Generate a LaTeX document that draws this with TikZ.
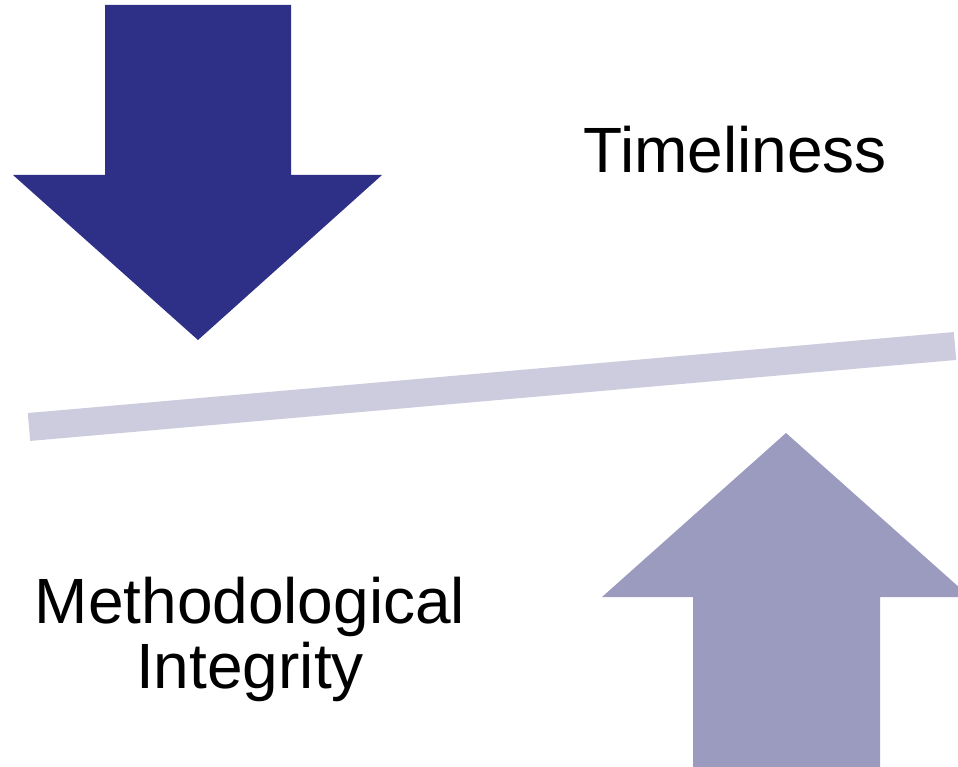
\documentclass[tikz,border=0pt]{standalone}
\usepackage{fontspec}
\setmainfont{Liberation Sans}
\definecolor{darkarrow}{RGB}{46,48,136}
\definecolor{lightarrow}{RGB}{155,155,191}
\definecolor{beam}{RGB}{204,204,222}
\begin{document}
\begin{tikzpicture}[x=1pt,y=-1pt,
  bigtext/.style={inner sep=0pt,font=\fontsize{64}{65}\selectfont,align=center}]
\useasboundingbox (0,0) rectangle (958,767);
\clip (0,0) rectangle (958,767);
% downward arrow pressing on the beam
\fill[darkarrow] (105,5) -- (291,5) -- (291,175) -- (382,175) -- (198,340)
  -- (13,175) -- (105,175) -- cycle;
% tilted beam
\draw[beam,line width=28pt,line cap=butt] (29,427) -- (955,346);
% upward arrow pushing from below
\fill[lightarrow] (693,767) -- (880,767) -- (880,597) -- (970,597) -- (786,433)
  -- (602,597) -- (693,597) -- cycle;
% labels (base anchor sits on the last line of a multi-line node)
\node[bigtext,anchor=base] (timeliness) at (735,173) {Timeliness};
\node[bigtext,anchor=base] (integrity) at (250,688) {Methodological\\Integrity};
\end{tikzpicture}
\end{document}
